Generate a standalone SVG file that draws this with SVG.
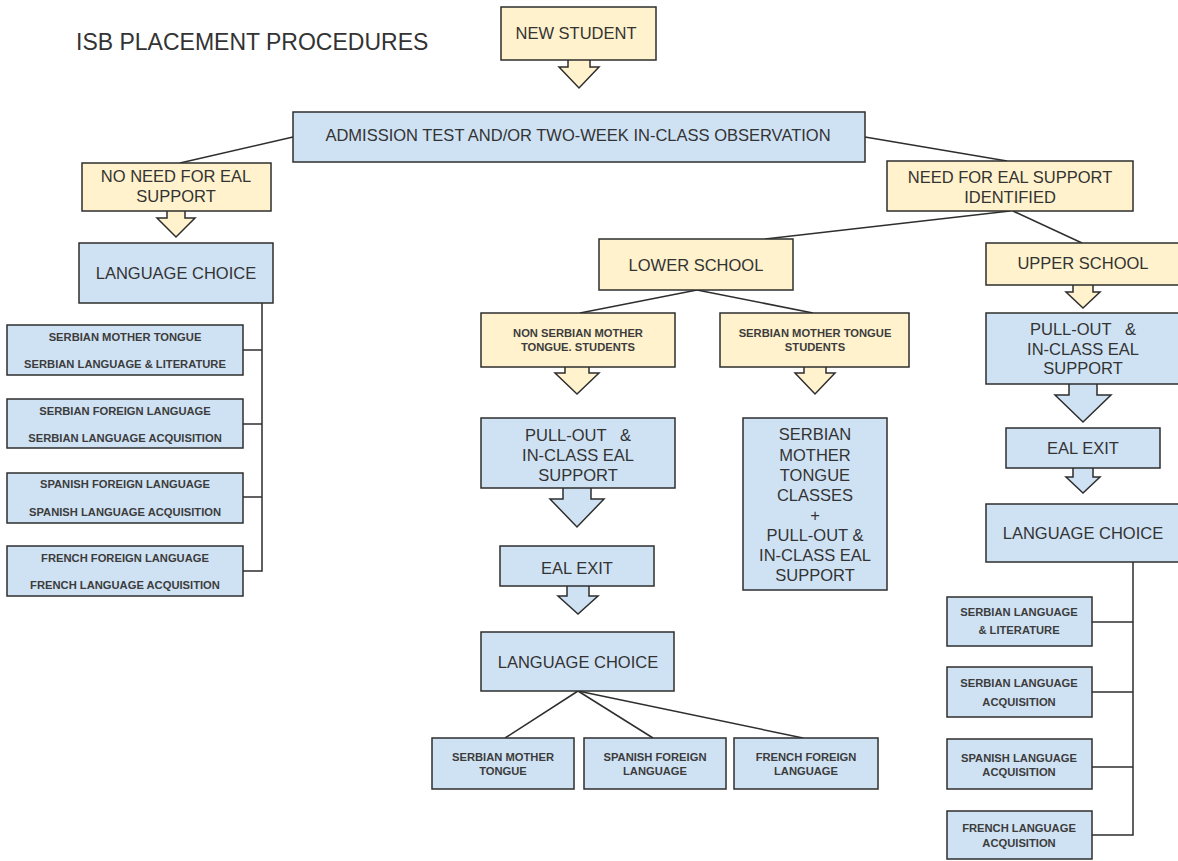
<svg xmlns="http://www.w3.org/2000/svg" width="1178" height="861" viewBox="0 0 1178 861">
<style>
.y{fill:#fff2cc;stroke:#2e2e2e;stroke-width:1.5}
.b{fill:#cfe2f3;stroke:#2e2e2e;stroke-width:1.5}
.ln{fill:none;stroke:#2e2e2e;stroke-width:1.5}
text{font-family:"Liberation Sans",Arial,sans-serif;fill:#333;text-anchor:middle}
.m{font-size:16.5px}
.s{font-size:11.2px;font-weight:bold;fill:#3c3c3c}
.t{font-size:23px;text-anchor:start}
</style>
<rect width="1178" height="861" fill="#ffffff"/>
<text class="t" x="76" y="50">ISB PLACEMENT PROCEDURES</text>

<g id="connectors">
<line class="ln" x1="293" y1="137" x2="180" y2="163"/>
<line class="ln" x1="865" y1="137" x2="1007" y2="161"/>
<line class="ln" x1="1010" y1="211" x2="765" y2="239"/>
<line class="ln" x1="1013" y1="211" x2="1082" y2="243"/>
<line class="ln" x1="697" y1="290" x2="580" y2="313"/>
<line class="ln" x1="697" y1="290" x2="813" y2="313"/>
<line class="ln" x1="578" y1="691" x2="505" y2="738"/>
<line class="ln" x1="578" y1="691" x2="653" y2="738"/>
<line class="ln" x1="578" y1="691" x2="803" y2="738"/>
<polyline class="ln" points="262,303 262,571 243,571"/>
<line class="ln" x1="243" y1="350" x2="262" y2="350"/>
<line class="ln" x1="243" y1="424" x2="262" y2="424"/>
<line class="ln" x1="243" y1="497" x2="262" y2="497"/>
<polyline class="ln" points="1133,562 1133,835 1092,835"/>
<line class="ln" x1="1092" y1="622" x2="1133" y2="622"/>
<line class="ln" x1="1092" y1="692" x2="1133" y2="692"/>
<line class="ln" x1="1092" y1="767" x2="1133" y2="767"/>
</g>

<g id="new-student">
<polygon class="y" points="568,59 568,67 559,67 579,88 599,67 590,67 590,59"/>
<rect class="y" x="501" y="7" width="155" height="53"/>
<text class="m" x="576" y="39">NEW STUDENT</text>
</g>

<g id="admission">
<rect class="b" x="293" y="112" width="572" height="50"/>
<text class="m" x="578" y="141">ADMISSION TEST AND/OR TWO-WEEK IN-CLASS OBSERVATION</text>
</g>

<g id="no-need">
<polygon class="y" points="167,210 167,218 157,218 176,237 195,218 185,218 185,210"/>
<rect class="y" x="82" y="163" width="189" height="48"/>
<text class="m" x="176" y="182">NO NEED FOR EAL</text>
<text class="m" x="176" y="202">SUPPORT</text>
</g>

<g id="language-choice-left">
<rect class="b" x="79" y="243" width="194" height="60"/>
<text class="m" x="176" y="279">LANGUAGE CHOICE</text>
</g>

<g id="left-opt-1">
<rect class="b" x="7" y="325" width="236" height="50"/>
<text class="s" x="125" y="341">SERBIAN MOTHER TONGUE</text>
<text class="s" x="125" y="368">SERBIAN LANGUAGE &amp; LITERATURE</text>
</g>
<g id="left-opt-2">
<rect class="b" x="7" y="399" width="236" height="49"/>
<text class="s" x="125" y="415">SERBIAN FOREIGN LANGUAGE</text>
<text class="s" x="125" y="442">SERBIAN LANGUAGE ACQUISITION</text>
</g>
<g id="left-opt-3">
<rect class="b" x="7" y="473" width="236" height="50"/>
<text class="s" x="125" y="488">SPANISH FOREIGN LANGUAGE</text>
<text class="s" x="125" y="516">SPANISH LANGUAGE ACQUISITION</text>
</g>
<g id="left-opt-4">
<rect class="b" x="7" y="546" width="236" height="50"/>
<text class="s" x="125" y="562">FRENCH FOREIGN LANGUAGE</text>
<text class="s" x="125" y="589">FRENCH LANGUAGE ACQUISITION</text>
</g>

<g id="need">
<rect class="y" x="887" y="161" width="246" height="50"/>
<text class="m" x="1010" y="183">NEED FOR EAL SUPPORT</text>
<text class="m" x="1010" y="203">IDENTIFIED</text>
</g>

<g id="lower-school">
<rect class="y" x="599" y="239" width="194" height="51"/>
<text class="m" x="696" y="271">LOWER SCHOOL</text>
</g>

<g id="non-serbian">
<polygon class="y" points="565,366 565,373 555,373 577,394 599,373 589,373 589,366"/>
<rect class="y" x="481" y="313" width="194" height="54"/>
<text class="s" x="578" y="337">NON SERBIAN MOTHER</text>
<text class="s" x="578" y="351">TONGUE. STUDENTS</text>
</g>

<g id="serbian-mt-students">
<polygon class="y" points="804,366 804,373 795,373 815,394 835,373 826,373 826,366"/>
<rect class="y" x="720" y="313" width="189" height="54"/>
<text class="s" x="815" y="337">SERBIAN MOTHER TONGUE</text>
<text class="s" x="815" y="351">STUDENTS</text>
</g>

<g id="pullout-lower">
<polygon class="b" points="563,487 563,499 550,499 577,527 604,499 591,499 591,487"/>
<rect class="b" x="481" y="418" width="194" height="70"/>
<text class="m" x="578" y="441" xml:space="preserve">PULL-OUT   &amp;</text>
<text class="m" x="578" y="461">IN-CLASS EAL</text>
<text class="m" x="578" y="481">SUPPORT</text>
</g>

<g id="serbian-mt-classes">
<rect class="b" x="743" y="418" width="144" height="172"/>
<text class="m" x="815" y="440">SERBIAN</text>
<text class="m" x="815" y="461">MOTHER</text>
<text class="m" x="815" y="481">TONGUE</text>
<text class="m" x="815" y="501">CLASSES</text>
<text class="m" x="815" y="521">+</text>
<text class="m" x="815" y="541">PULL-OUT &amp;</text>
<text class="m" x="815" y="561">IN-CLASS EAL</text>
<text class="m" x="815" y="581">SUPPORT</text>
</g>

<g id="eal-exit-lower">
<polygon class="b" points="567,585 567,596 558,596 578,614 598,596 589,596 589,585"/>
<rect class="b" x="500" y="546" width="154" height="40"/>
<text class="m" x="577" y="574">EAL EXIT</text>
</g>

<g id="language-choice-lower">
<rect class="b" x="481" y="632" width="193" height="59"/>
<text class="m" x="578" y="668">LANGUAGE CHOICE</text>
</g>

<g id="lower-opt-1">
<rect class="b" x="432" y="738" width="142" height="51"/>
<text class="s" x="503" y="761">SERBIAN MOTHER</text>
<text class="s" x="503" y="775">TONGUE</text>
</g>
<g id="lower-opt-2">
<rect class="b" x="584" y="738" width="142" height="51"/>
<text class="s" x="655" y="761">SPANISH FOREIGN</text>
<text class="s" x="655" y="775">LANGUAGE</text>
</g>
<g id="lower-opt-3">
<rect class="b" x="734" y="738" width="144" height="51"/>
<text class="s" x="806" y="761">FRENCH FOREIGN</text>
<text class="s" x="806" y="775">LANGUAGE</text>
</g>

<g id="upper-school">
<polygon class="y" points="1073,284 1073,292 1066,292 1083,308 1100,292 1093,292 1093,284"/>
<rect class="y" x="986" y="243" width="196" height="42"/>
<text class="m" x="1083" y="269">UPPER SCHOOL</text>
</g>

<g id="pullout-upper">
<polygon class="b" points="1069,383 1069,395 1055,395 1083,422 1111,395 1097,395 1097,383"/>
<rect class="b" x="986" y="313" width="196" height="71"/>
<text class="m" x="1083" y="335" xml:space="preserve">PULL-OUT   &amp;</text>
<text class="m" x="1083" y="355">IN-CLASS EAL</text>
<text class="m" x="1083" y="374">SUPPORT</text>
</g>

<g id="eal-exit-upper">
<polygon class="b" points="1073,467 1073,477 1066,477 1083,493 1100,477 1093,477 1093,467"/>
<rect class="b" x="1006" y="428" width="154" height="40"/>
<text class="m" x="1083" y="454">EAL EXIT</text>
</g>

<g id="language-choice-upper">
<rect class="b" x="986" y="504" width="196" height="58"/>
<text class="m" x="1083" y="539">LANGUAGE CHOICE</text>
</g>

<g id="upper-opt-1">
<rect class="b" x="947" y="597" width="145" height="49"/>
<text class="s" x="1019" y="616">SERBIAN LANGUAGE</text>
<text class="s" x="1019" y="634">&amp; LITERATURE</text>
</g>
<g id="upper-opt-2">
<rect class="b" x="947" y="667" width="145" height="50"/>
<text class="s" x="1019" y="687">SERBIAN LANGUAGE</text>
<text class="s" x="1019" y="706">ACQUISITION</text>
</g>
<g id="upper-opt-3">
<rect class="b" x="947" y="739" width="145" height="50"/>
<text class="s" x="1019" y="762">SPANISH LANGUAGE</text>
<text class="s" x="1019" y="776">ACQUISITION</text>
</g>
<g id="upper-opt-4">
<rect class="b" x="947" y="811" width="145" height="48"/>
<text class="s" x="1019" y="832">FRENCH LANGUAGE</text>
<text class="s" x="1019" y="847">ACQUISITION</text>
</g>
</svg>
